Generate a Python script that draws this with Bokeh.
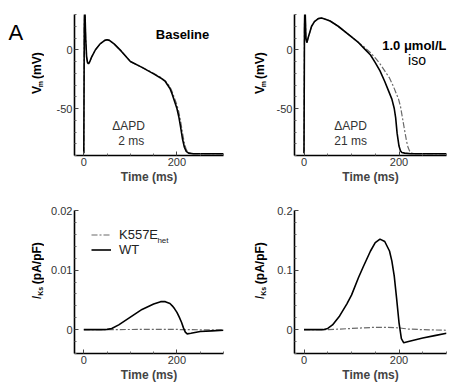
import math
from bokeh.plotting import figure
from bokeh.layouts import column, row
from bokeh.models import FixedTicker, Label, Legend, LegendItem, Range1d
from bokeh.embed import file_html
from bokeh.resources import INLINE

FONT = "Liberation Sans"

# ---------------- data ----------------
# Baseline action potentials (time ms, Vm mV)
t_base_wt = [0, 1, 2, 4, 6, 8, 10, 13, 17, 25, 35, 45, 50, 55, 65, 80, 100, 125, 150, 165, 175, 185, 190, 195, 200, 204, 208, 212, 216, 220, 225, 235, 300]
v_base_wt = [-88, 20, 40, 10, -6, -11, -12, -10, -6, 0, 5, 8, 8.5, 8, 5, -1, -10, -15, -20.5, -24, -27, -33, -38, -44, -50, -57, -66, -76, -83, -86.5, -88, -88.5, -88.5]
t_base_mut = [0, 1, 2, 4, 6, 8, 10, 13, 17, 25, 35, 45, 50, 55, 65, 80, 100, 125, 150, 165, 175, 185, 190, 195, 200, 204, 208, 212, 216, 220, 225, 235, 300]
v_base_mut = [-88, 20, 40, 10, -6, -11, -12, -10, -6, 0, 5, 8, 8.5, 8, 5, -1, -10, -15, -20, -23.5, -26.5, -31.5, -36, -41.5, -47, -53, -61, -71, -79.5, -85, -87.5, -88.5, -88.5]

# 1.0 umol/L ISO action potentials
t_iso_wt = [0, 1, 2, 3, 4, 6, 10, 16, 22, 30, 37, 45, 55, 72, 100, 115, 128, 140, 150, 160, 170, 178, 185, 190, 193, 196, 200, 203, 206, 212, 225, 300]
v_iso_wt = [-88, 20, 40, 25, 10, 6, 12, 20, 24, 26.5, 27, 26, 24.5, 20, 11, 6, 0.5, -4.5, -11, -18, -27, -35, -42, -50, -58, -71, -82, -86, -87.5, -88, -88.5, -88.5]
t_iso_mut = [0, 1, 2, 3, 4, 6, 10, 16, 22, 30, 37, 45, 55, 72, 100, 115, 125, 140, 150, 160, 170, 180, 188, 194, 199, 203, 206, 209, 212, 216, 219, 222, 227, 235, 300]
v_iso_mut = [-88, 20, 40, 25, 10, 6, 12, 20, 24, 26.5, 27, 26, 24.5, 20, 11, 6, 3, -2.5, -7, -12, -18, -24, -31, -37, -42, -48, -55, -62, -69, -78, -83, -86, -88, -88.5, -88.5]

# IKs baseline (pA/pF)
t_iks_base_wt = [0, 40, 50, 60, 75, 100, 125, 150, 165, 175, 185, 190, 195, 200, 205, 210, 214, 218, 222, 230, 250, 275, 300]
i_iks_base_wt = [0, 0, 0.00005, 0.0002, 0.0008, 0.0021, 0.0034, 0.0043, 0.0047, 0.0047, 0.0044, 0.0040, 0.0035, 0.0029, 0.0021, 0.0012, 0.0003, -0.0004, -0.0007, -0.0006, -0.0003, -0.0002, -0.0001]
t_iks_base_mut = [0, 50, 100, 150, 200, 215, 250, 300]
i_iks_base_mut = [0, 0, 0.00003, 0.00005, 0.00004, 0, -0.00002, -0.00001]

# IKs ISO (pA/pF)
t_iks_iso_wt = [0, 40, 50, 60, 75, 90, 100, 115, 125, 140, 150, 160, 170, 180, 185, 190, 195, 200, 205, 210, 220, 235, 250, 275, 300]
i_iks_iso_wt = [0, 0, 0.002, 0.008, 0.023, 0.043, 0.058, 0.088, 0.106, 0.132, 0.146, 0.152, 0.148, 0.132, 0.115, 0.090, 0.052, 0.012, -0.015, -0.022, -0.020, -0.017, -0.014, -0.010, -0.006]
t_iks_iso_mut = [0, 50, 100, 150, 175, 200, 210, 220, 250, 300]
i_iks_iso_mut = [0, 0, 0.002, 0.004, 0.004, 0.003, 0.002, 0.001, 0, -0.001]

# axes / ticks
x_range = (-20, 300)
x_major = [0, 200]
x_minor = [50, 100, 150, 250, 300]
vm_range = (-90, 30)
vm_major = [-50, 0]
vm_minor = [-90, -80, -70, -60, -40, -30, -20, -10, 10, 20, 30]
iks_base_range = (-0.004, 0.02)
iks_base_major = [0, 0.01, 0.02]
iks_base_minor = [-0.004, -0.002, 0.002, 0.004, 0.006, 0.008, 0.012, 0.014, 0.016, 0.018]
iks_iso_range = (-0.04, 0.2)
iks_iso_major = [0, 0.1, 0.2]
iks_iso_minor = [-0.04, -0.02, 0.02, 0.04, 0.06, 0.08, 0.12, 0.14, 0.16, 0.18]

WT_COLOR = "black"
MUT_COLOR = "#6a6a6a"
MUT_DASH = "6 2 2 2"

TOP_H = 186
BOT_H = 198


def make_fig(w, h, yr, ymaj, ymin, ylabels, borders):
    p = figure(width=w, height=h, x_range=Range1d(*x_range), y_range=Range1d(*yr),
               output_backend="svg", toolbar_location=None,
               min_border_left=borders[0], min_border_right=borders[1],
               min_border_top=borders[2], min_border_bottom=borders[3])
    p.outline_line_color = None
    p.xgrid.visible = False
    p.ygrid.visible = False
    p.xaxis.ticker = FixedTicker(ticks=x_major, minor_ticks=x_minor)
    p.yaxis.ticker = FixedTicker(ticks=ymaj, minor_ticks=ymin)
    p.xaxis.major_label_overrides = {0: "0", 200: "200"}
    p.yaxis.major_label_overrides = ylabels
    for ax in (p.xaxis[0], p.yaxis[0]):
        ax.axis_line_width = 1.6
        ax.axis_line_color = "black"
        ax.major_tick_in = 4
        ax.major_tick_out = 0
        ax.minor_tick_in = 2
        ax.minor_tick_out = 0
        ax.major_tick_line_color = "#444444"
        ax.minor_tick_line_color = "#666666"
        ax.major_label_text_font = FONT
        ax.major_label_text_font_size = "11px"
        ax.major_label_text_color = "#333333"
        ax.major_label_standoff = 2
    p.xaxis.axis_label = "Time (ms)"
    p.xaxis.axis_label_text_font = FONT
    p.xaxis.axis_label_text_font_size = "12px"
    p.xaxis.axis_label_text_font_style = "bold"
    p.xaxis.axis_label_standoff = 1
    return p


def make_helper(w, h):
    # narrow figure holding the rotated y-axis titles (pixel coordinates, origin bottom-left)
    p = figure(width=w, height=h, x_range=Range1d(0, w), y_range=Range1d(0, h),
               x_axis_type=None, y_axis_type=None, output_backend="svg",
               toolbar_location=None, min_border=0)
    p.outline_line_color = None
    p.xgrid.visible = False
    p.ygrid.visible = False
    return p


def add_text(p, x, y, text, xoff=0, yoff=0, size="12px", style="normal", align="left",
             baseline="middle", angle=0.0, color="black"):
    p.add_layout(Label(x=x, y=y, text=text, x_offset=xoff, y_offset=yoff, angle=angle,
                       text_font=FONT, text_font_size=size, text_font_style=style,
                       text_align=align, text_baseline=baseline, text_color=color))


def vm_label(p, x, y):
    a = math.pi / 2
    add_text(p, x, y, "V", size="12px", style="bold", angle=a)
    add_text(p, x + 4, y + 9, "m", size="7px", style="bold", angle=a)
    add_text(p, x, y + 20, "(mV)", size="12px", style="bold", angle=a)


def iks_label(p, x, y):
    a = math.pi / 2
    add_text(p, x, y, "I", size="12px", style="italic", angle=a)
    add_text(p, x + 4, y + 5, "Ks", size="7px", style="bold", angle=a)
    add_text(p, x, y + 21, "(pA/pF)", size="12px", style="bold", angle=a)


vm_labels = {-50: "-50", 0: "0"}

# ---- top-left: baseline AP ----
h1 = make_helper(44, TOP_H)
vm_label(h1, 36, 81)
add_text(h1, 8, TOP_H - 7, "A", size="22px", baseline="top")

p1 = make_fig(181, TOP_H, vm_range, vm_major, vm_minor, vm_labels, (30, 2, 14, 30))
p1.line(t_base_mut, v_base_mut, line_color=MUT_COLOR, line_width=1.2, line_dash=MUT_DASH)
p1.line(t_base_wt, v_base_wt, line_color=WT_COLOR, line_width=1.6)
add_text(p1, 212, 13, "Baseline", size="13px", style="bold", align="center")
add_text(p1, 96, -64.5, "\u0394APD", size="12px", align="center", color="#333333")
add_text(p1, 102, -77.5, "2 ms", size="12px", align="center", color="#333333")

# ---- top-right: ISO AP ----
h2 = make_helper(43, TOP_H)
vm_label(h2, 34, 81)

p2 = make_fig(180, TOP_H, vm_range, vm_major, vm_minor, vm_labels, (26, 2, 14, 30))
p2.line(t_iso_mut, v_iso_mut, line_color=MUT_COLOR, line_width=1.2, line_dash=MUT_DASH)
p2.line(t_iso_wt, v_iso_wt, line_color=WT_COLOR, line_width=1.6)
add_text(p2, x_range[1], 4, "1.0 \u03bcmol/L", size="13px", style="bold", align="right")
add_text(p2, 238, -9, "iso", size="14px", align="center")
add_text(p2, 98, -64.5, "\u0394APD", size="12px", align="center", color="#333333")
add_text(p2, 98, -77.5, "21 ms", size="12px", align="center", color="#333333")

# ---- bottom-left: IKs baseline ----
h3 = make_helper(44, BOT_H)
iks_label(h3, 36, 75)

p3 = make_fig(181, BOT_H, iks_base_range, iks_base_major, iks_base_minor,
              {0: "0", 0.01: "0.01", 0.02: "0.02"}, (30, 2, 24, 30))
r_mut = p3.line(t_iks_base_mut, i_iks_base_mut, line_color=MUT_COLOR, line_width=1.2, line_dash=MUT_DASH)
r_wt = p3.line(t_iks_base_wt, i_iks_base_wt, line_color=WT_COLOR, line_width=1.6)
leg = Legend(items=[LegendItem(label="K557E", renderers=[r_mut]),
                    LegendItem(label="WT", renderers=[r_wt])],
             location=(17, 96), border_line_color=None, background_fill_alpha=0,
             padding=0, margin=0, spacing=-2, glyph_width=20, glyph_height=13,
             label_height=13, label_standoff=8, label_text_font=FONT,
             label_text_font_size="13px", label_text_color="#222222")
p3.add_layout(leg)
add_text(p3, 158, 0.0149, "het", size="8px", color="#222222")

# ---- bottom-right: IKs ISO ----
h4 = make_helper(43, BOT_H)
iks_label(h4, 34, 75)

p4 = make_fig(180, BOT_H, iks_iso_range, iks_iso_major, iks_iso_minor,
              {0: "0", 0.1: "0.1", 0.2: "0.2"}, (26, 2, 24, 30))
p4.line(t_iks_iso_mut, i_iks_iso_mut, line_color=MUT_COLOR, line_width=1.2, line_dash=MUT_DASH)
p4.line(t_iks_iso_wt, i_iks_iso_wt, line_color=WT_COLOR, line_width=1.6)

layout = column(row(h1, p1, h2, p2), row(h3, p3, h4, p4))
open("out.html", "w").write(file_html(layout, INLINE))
